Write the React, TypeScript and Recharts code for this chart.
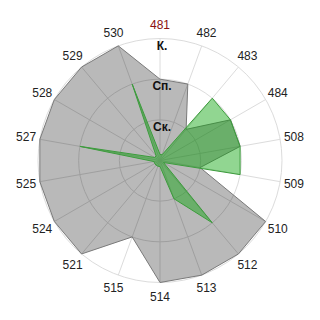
import { RadarChart, Radar, PolarGrid, PolarAngleAxis, PolarRadiusAxis } from "recharts";

const categories = ["481", "482", "483", "484", "508", "509", "510", "512", "513", "514", "515", "521", "524", "525", "527", "528", "529", "530"];
const greyValues = [2, 2, 1, 2, 2, 1, 3, 3, 3, 3, 2, 3, 3, 3, 3, 3, 3, 3];
const greenValues = [0.15, 0.15, 2, 2, 2, 2, 0.1, 2, 1, 0.15, 0.15, 0.15, 0.15, 0.15, 2, 0.15, 0.15, 2];
const levelLabels = ["", "Ск.", "Сп.", "К."];

const data = categories.map((name, i) => ({
  name,
  grey: greyValues[i],
  green: greenValues[i],
}));

const CX = 160;
const CY = 160.5;
const R = 122;

const AngleTick = (props: any) => {
  const a = (-props.payload.coordinate * Math.PI) / 180;
  const x = CX + 136 * Math.cos(a);
  const y = CY + 136 * Math.sin(a);
  const highlight = props.payload.value === "481";
  return (
    <text
      x={x}
      y={y}
      textAnchor="middle"
      dominantBaseline="central"
      fontSize={12}
      fontFamily="Liberation Sans, Arial, sans-serif"
      fill={highlight ? "#8b1010" : "#222"}
    >
      {props.payload.value}
    </text>
  );
};

const RadiusTick = (props: any) => {
  return (
    <text
      x={props.x + 2}
      y={props.y + 7}
      textAnchor="middle"
      dominantBaseline="central"
      fontSize={12}
      fontWeight="bold"
      fontFamily="Liberation Sans, Arial, sans-serif"
      fill="#111"
    >
      {levelLabels[props.payload.value] ?? ""}
    </text>
  );
};

export default function App() {
  return (
    <div style={{ position: "absolute", left: 0, top: 0, background: "#fff" }}>
      <RadarChart
        width={320}
        height={320}
        data={data}
        cx={CX}
        cy={CY}
        outerRadius={R}
        margin={{ top: 0, right: 0, bottom: 0, left: 0 }}
      >
        <PolarGrid gridType="circle" stroke="#dcdcdc" />
        <PolarAngleAxis dataKey="name" tick={<AngleTick />} tickLine={false} axisLine={false} />
        <Radar
          dataKey="grey"
          fill="#000"
          fillOpacity={0.275}
          stroke="#7a7a7a"
          strokeWidth={1}
          isAnimationActive={false}
        />
        <Radar
          dataKey="green"
          fill="#0aa40a"
          fillOpacity={0.45}
          stroke="#3c9c3c"
          strokeWidth={1}
          isAnimationActive={false}
        />
        <PolarRadiusAxis
          angle={90}
          domain={[0, 3]}
          tickCount={4}
          axisLine={false}
          tickLine={false}
          tick={<RadiusTick />}
        />
      </RadarChart>
    </div>
  );
}
